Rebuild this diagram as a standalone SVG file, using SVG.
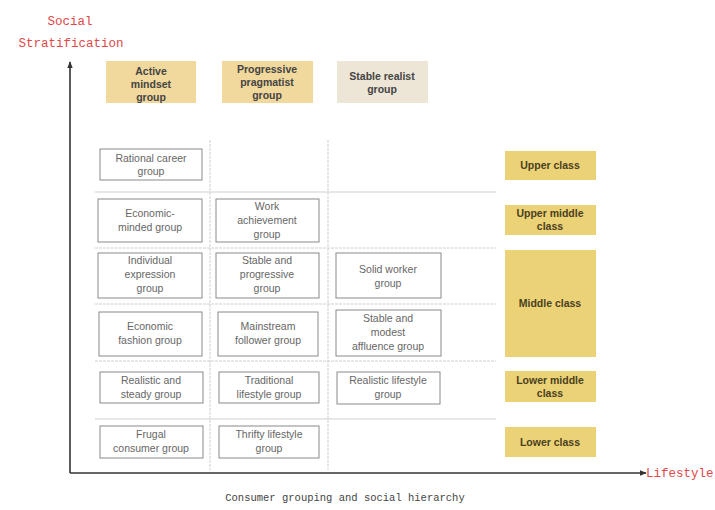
<svg xmlns="http://www.w3.org/2000/svg" width="715" height="510" viewBox="0 0 715 510">
<style>
.mono{font-family:"Liberation Mono","DejaVu Sans Mono",monospace;}
.ax{fill:#e04848;font-size:12.5px;}
.cap{fill:#444;font-size:10.5px;}
.cell rect{fill:#fff;stroke:#8a8a8a;stroke-width:1;}
.cell text{font-family:"Liberation Sans",Arial,sans-serif;font-size:10.5px;fill:#666;text-anchor:middle;}
.hdr text{font-family:"Liberation Sans",Arial,sans-serif;font-size:10.5px;font-weight:bold;fill:#444;text-anchor:middle;}
.cls rect{fill:#ebd277;}
.cls text{font-family:"Liberation Sans",Arial,sans-serif;font-size:10.5px;font-weight:bold;fill:#4a4020;text-anchor:middle;}
.grid line{stroke:#cfcfcf;stroke-width:1;}
.axis{stroke:#333;stroke-width:1.6;fill:none;}
</style>
<defs>
<marker id="arr" viewBox="0 0 10 10" refX="9" refY="5" markerWidth="7" markerHeight="7" orient="auto" markerUnits="userSpaceOnUse">
<path d="M0,1 L10,5 L0,9 z" fill="#333"/>
</marker>
</defs>
<rect width="715" height="510" fill="#fff"/>
<g id="axis-labels" class="mono">
<text class="ax" x="70" y="25" text-anchor="middle">Social</text>
<text class="ax" x="71" y="47" text-anchor="middle">Stratification</text>
<text class="ax" x="646" y="477">Lifestyle</text>
<text class="cap" x="345" y="501" text-anchor="middle">Consumer grouping and social hierarchy</text>
</g>
<g id="grid" class="grid">
<line x1="95" y1="192" x2="496" y2="192"/>
<line x1="95" y1="248" x2="496" y2="248" stroke-dasharray="3,1"/>
<line x1="95" y1="304" x2="496" y2="304" stroke-dasharray="3,1"/>
<line x1="95" y1="361" x2="496" y2="361" stroke-dasharray="3,1"/>
<line x1="95" y1="419" x2="496" y2="419"/>
<line x1="210" y1="140" x2="210" y2="470" stroke-dasharray="3,1"/>
<line x1="328" y1="140" x2="328" y2="470" stroke-dasharray="3,1"/>
</g>
<g id="connectors">
<line class="axis" x1="70" y1="473" x2="70" y2="62" marker-end="url(#arr)"/>
<line class="axis" x1="70" y1="473" x2="646" y2="473" marker-end="url(#arr)"/>
</g>
<g id="h-active" class="hdr"><rect x="106" y="61" width="90" height="42" fill="#f1d89c"/><text x="151" y="75">Active</text><text x="151" y="88">mindset</text><text x="151" y="101">group</text></g>
<g id="h-progressive" class="hdr"><rect x="222" y="61" width="91" height="42" fill="#f1d89c"/><text x="267" y="73">Progressive</text><text x="267" y="86">pragmatist</text><text x="267" y="99">group</text></g>
<g id="h-stable" class="hdr"><rect x="337" y="61" width="91" height="42" fill="#ede6d6"/><text x="382" y="80">Stable realist</text><text x="382" y="93">group</text></g>

<g id="n-rational" class="cell"><rect x="100" y="149" width="102" height="31"/><text x="151" y="162">Rational career</text><text x="151" y="175">group</text></g>
<g id="n-econ-minded" class="cell"><rect x="98" y="199" width="104" height="43"/><text x="150" y="217">Economic-</text><text x="150" y="231">minded group</text></g>
<g id="n-work" class="cell"><rect x="216" y="199" width="103" height="43"/><text x="267" y="210">Work</text><text x="267" y="224">achievement</text><text x="267" y="238">group</text></g>
<g id="n-individual" class="cell"><rect x="98" y="253" width="104" height="45"/><text x="150" y="264">Individual</text><text x="150" y="278">expression</text><text x="150" y="292">group</text></g>
<g id="n-stable-prog" class="cell"><rect x="216" y="253" width="103" height="45"/><text x="267" y="264">Stable and</text><text x="267" y="278">progressive</text><text x="267" y="292">group</text></g>
<g id="n-solid" class="cell"><rect x="336" y="253" width="105" height="45"/><text x="388" y="273">Solid worker</text><text x="388" y="287">group</text></g>
<g id="n-econ-fashion" class="cell"><rect x="99" y="312" width="103" height="44"/><text x="150" y="330">Economic</text><text x="150" y="344">fashion group</text></g>
<g id="n-mainstream" class="cell"><rect x="218" y="312" width="100" height="44"/><text x="268" y="330">Mainstream</text><text x="268" y="344">follower group</text></g>
<g id="n-modest" class="cell"><rect x="336" y="310" width="105" height="46"/><text x="388" y="322">Stable and</text><text x="388" y="336">modest</text><text x="388" y="350">affluence group</text></g>
<g id="n-real-steady" class="cell"><rect x="100" y="372" width="103" height="31"/><text x="151" y="384">Realistic and</text><text x="151" y="398">steady group</text></g>
<g id="n-traditional" class="cell"><rect x="219" y="372" width="100" height="31"/><text x="269" y="384">Traditional</text><text x="269" y="398">lifestyle group</text></g>
<g id="n-real-life" class="cell"><rect x="337" y="372" width="103" height="32"/><text x="388" y="384">Realistic lifestyle</text><text x="388" y="398">group</text></g>
<g id="n-frugal" class="cell"><rect x="100" y="426" width="103" height="32"/><text x="151" y="438">Frugal</text><text x="151" y="452">consumer group</text></g>
<g id="n-thrifty" class="cell"><rect x="219" y="426" width="100" height="32"/><text x="269" y="438">Thrifty lifestyle</text><text x="269" y="452">group</text></g>

<g id="c-upper" class="cls"><rect x="505" y="151" width="91" height="29"/><text x="550" y="169">Upper class</text></g>
<g id="c-upper-middle" class="cls"><rect x="505" y="205" width="91" height="30"/><text x="550" y="217">Upper middle</text><text x="550" y="230">class</text></g>
<g id="c-middle" class="cls"><rect x="505" y="250" width="91" height="107"/><text x="550" y="307">Middle class</text></g>
<g id="c-lower-middle" class="cls"><rect x="505" y="371" width="91" height="31"/><text x="550" y="384">Lower middle</text><text x="550" y="397">class</text></g>
<g id="c-lower" class="cls"><rect x="505" y="427" width="91" height="30"/><text x="550" y="446">Lower class</text></g>
</svg>
